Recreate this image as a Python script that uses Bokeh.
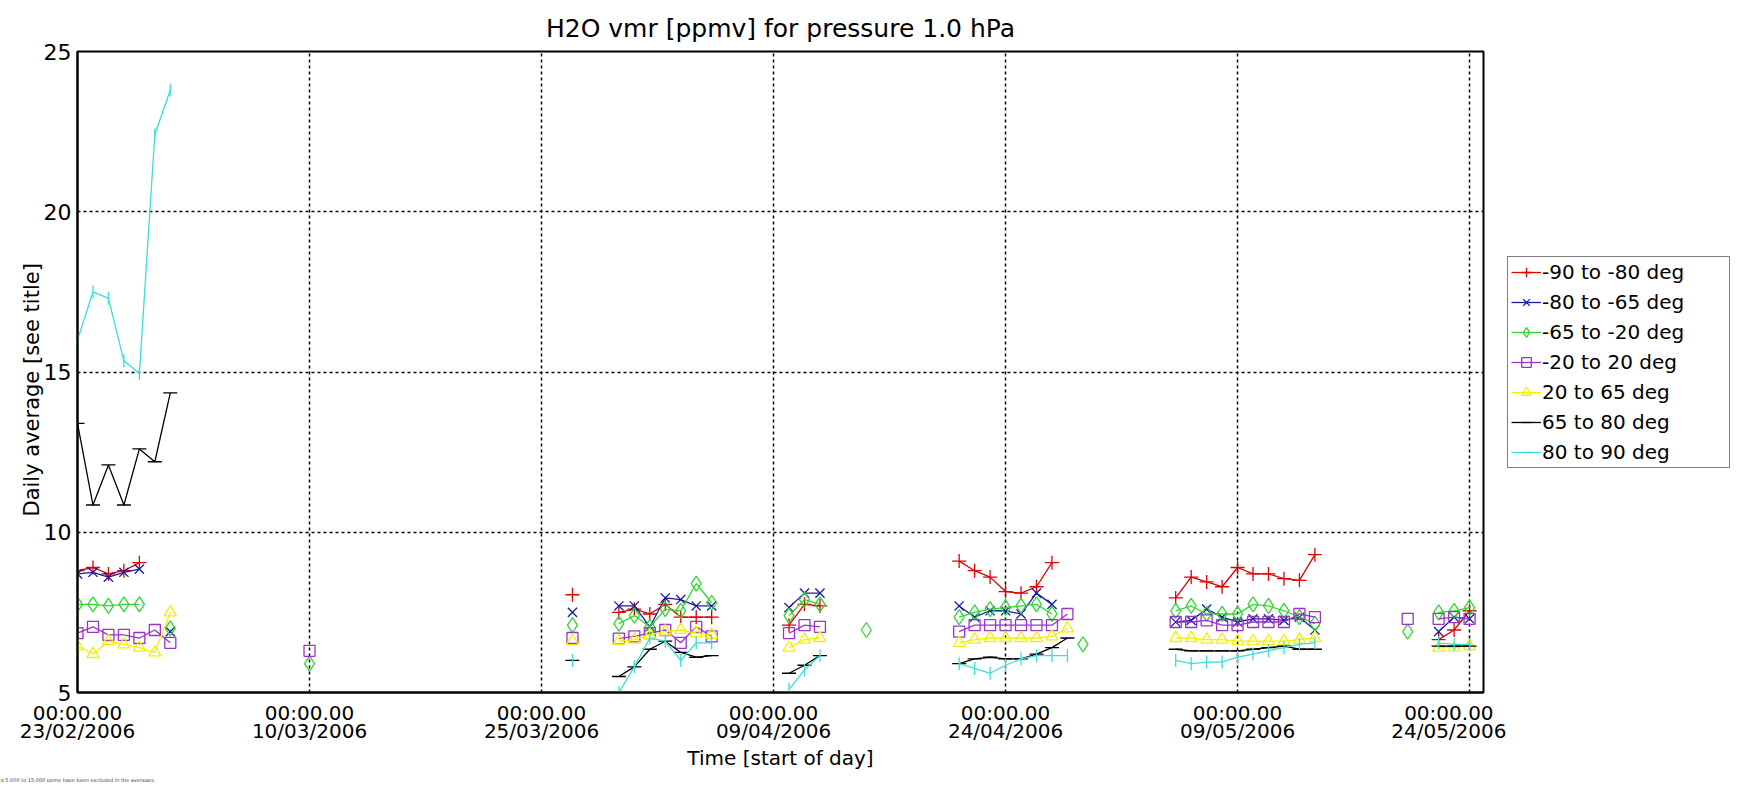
import math
from bokeh.plotting import figure
from bokeh.layouts import row, column
from bokeh.models import Range1d, FixedTicker, Legend, LegendItem, Title
from bokeh.embed import file_html
from bokeh.resources import INLINE

# ---------------- data (x = days since 23/02/2006 00:00) ----------------
tick_days = [0, 15, 30, 45, 60, 75, 90]
tick_dates = ["23/02/2006", "10/03/2006", "25/03/2006", "09/04/2006",
              "24/04/2006", "09/05/2006", "24/05/2006"]
y_ticks = [5, 10, 15, 20, 25]

labels = ["-90 to -80 deg", "-80 to -65 deg", "-65 to -20 deg", "-20 to 20 deg",
          "20 to 65 deg", "65 to 80 deg", "80 to 90 deg"]

red_days = [0, 1, 2, 3, 4, 32, 35, 36, 37, 38, 39, 40, 41, 46, 47, 48,
            57, 58, 59, 60, 61, 62, 63, 71, 72, 73, 74, 75, 76, 77, 78, 79, 80, 88, 89, 90]
red_vals = [8.8, 8.9, 8.7, 8.8, 9.05, 8.05, 7.5, 7.6, 7.45, 7.75, 7.35, 7.35, 7.35, 7.1, 7.75, 7.7,
            9.1, 8.8, 8.6, 8.15, 8.1, 8.3, 9.05, 7.95, 8.6, 8.45, 8.3, 8.9, 8.7, 8.7, 8.55, 8.5, 9.3,
            6.65, 6.95, 7.55]

blue_days = [0, 1, 2, 3, 4, 6, 32, 35, 36, 37, 38, 39, 40, 41, 46, 47, 48,
             57, 58, 59, 60, 61, 62, 63, 71, 72, 73, 74, 75, 76, 77, 78, 79, 80, 88, 89, 90]
blue_vals = [8.7, 8.75, 8.6, 8.75, 8.85, 6.9, 7.5, 7.7, 7.7, 7.05, 7.95, 7.9, 7.7, 7.7, 7.65, 8.1, 8.1,
             7.7, 7.35, 7.55, 7.55, 7.45, 8.1, 7.75, 7.2, 7.25, 7.6, 7.35, 7.2, 7.3, 7.3, 7.25, 7.35, 6.95,
             6.9, 7.35, 7.3]

green_days = [0, 1, 2, 3, 4, 6, 15, 32, 35, 36, 37, 38, 39, 40, 41, 46, 47, 48, 51,
              57, 58, 59, 60, 61, 62, 63, 65, 71, 72, 73, 74, 75, 76, 77, 78, 79, 80, 86, 88, 89, 90]
green_vals = [7.75, 7.75, 7.7, 7.75, 7.75, 7.0, 5.9, 7.1, 7.15, 7.4, 7.05, 7.6, 7.55, 8.4, 7.8,
              7.4, 7.9, 7.75, 6.95, 7.35, 7.5, 7.6, 7.65, 7.7, 7.75, 7.45, 6.5,
              7.55, 7.7, 7.45, 7.45, 7.45, 7.75, 7.7, 7.55, 7.35, 7.15, 6.9, 7.5, 7.55, 7.65]

purple_days = [0, 1, 2, 3, 4, 5, 6, 15, 32, 35, 36, 37, 38, 39, 40, 41, 46, 47, 48,
               57, 58, 59, 60, 61, 62, 63, 64, 71, 72, 73, 74, 75, 76, 77, 78, 79, 80, 86, 88, 89, 90]
purple_vals = [6.85, 7.05, 6.8, 6.8, 6.7, 6.95, 6.55, 6.3, 6.7, 6.68, 6.75, 6.85, 6.95, 6.55, 7.05, 6.75,
               6.85, 7.1, 7.05, 6.9, 7.1, 7.1, 7.1, 7.1, 7.1, 7.1, 7.45,
               7.2, 7.2, 7.25, 7.1, 7.1, 7.2, 7.2, 7.2, 7.45, 7.35, 7.3, 7.3, 7.35, 7.3]

yellow_days = [0, 1, 2, 3, 4, 5, 6, 32, 35, 36, 37, 38, 39, 40, 41, 46, 47, 48,
               57, 58, 59, 60, 61, 62, 63, 64, 71, 72, 73, 74, 75, 76, 77, 78, 79, 80, 88, 89, 90]
yellow_vals = [6.45, 6.2, 6.6, 6.5, 6.4, 6.25, 7.5, 6.6, 6.6, 6.65, 6.8, 6.9, 6.95, 6.85, 6.8,
               6.4, 6.65, 6.7, 6.55, 6.65, 6.7, 6.7, 6.7, 6.7, 6.75, 7.0,
               6.7, 6.7, 6.65, 6.65, 6.6, 6.6, 6.6, 6.6, 6.65, 6.7, 6.4, 6.4, 6.45]

black_days = [0, 1, 2, 3, 4, 5, 6, 32, 35, 36, 37, 38, 39, 40, 41, 46, 47, 48,
              57, 58, 59, 60, 61, 62, 63, 64, 71, 72, 73, 74, 75, 76, 77, 78, 79, 80, 88, 89, 90]
black_vals = [13.4, 10.85, 12.1, 10.85, 12.6, 12.2, 14.35, 6.0, 5.5, 5.8, 6.35, 6.6, 6.25, 6.1, 6.15,
              5.6, 5.85, 6.15, 5.9, 6.05, 6.1, 6.05, 6.05, 6.2, 6.4, 6.7,
              6.35, 6.3, 6.3, 6.3, 6.3, 6.35, 6.4, 6.45, 6.35, 6.35, 6.45, 6.45, 6.45]

cyan_days = [0, 1, 2, 3, 4, 5, 6, 32, 35, 36, 37, 38, 39, 40, 41, 46, 47, 48,
             57, 58, 59, 60, 61, 62, 63, 64, 71, 72, 73, 74, 75, 76, 77, 78, 79, 80, 88, 89, 90]
cyan_vals = [16.0, 17.5, 17.3, 15.35, 14.95, 22.4, 23.8, 6.0, 5.0, 5.8, 6.7, 6.6, 6.0, 6.55, 6.55,
             5.1, 5.7, 6.15, 5.9, 5.75, 5.6, 5.85, 6.05, 6.15, 6.15, 6.15,
             6.0, 5.9, 5.95, 5.95, 6.1, 6.2, 6.3, 6.4, 6.5, 6.55, 6.55, 6.5, 6.5]

footnote = "d 5.000 to 15.000 ppmv have been excluded in the averages."

# ---------------- styling ----------------
FONT = "DejaVu Sans"
styles = [
    dict(color="#e00000", marker="cross", size=14, angle=0.0),
    dict(color="#1c1c9c", marker="x", size=13, angle=0.0),
    dict(color="#30d830", marker="diamond", size=15, angle=0.0),
    dict(color="#9a33c8", marker="square", size=11, angle=0.0),
    dict(color="#f2f200", marker="triangle", size=12, angle=0.0),
    dict(color="#000000", marker="dash", size=14, angle=0.0),
    dict(color="#3cded6", marker="dash", size=13, angle=math.pi / 2),
]
all_series = [(red_days, red_vals), (blue_days, blue_vals), (green_days, green_vals),
              (purple_days, purple_vals), (yellow_days, yellow_vals),
              (black_days, black_vals), (cyan_days, cyan_vals)]


def with_gaps(days, vals):
    xs, ys = [], []
    prev = None
    for d, v in zip(days, vals):
        if prev is not None and d - prev > 1:
            xs.append(float("nan"))
            ys.append(float("nan"))
        xs.append(d)
        ys.append(v)
        prev = d
    return xs, ys


# ---------------- main plot ----------------
p = figure(width=1506, height=772, x_range=Range1d(0, 90.9), y_range=Range1d(5, 25),
           output_backend="svg", toolbar_location=None,
           min_border_left=77, min_border_right=23, min_border_top=51, min_border_bottom=73,
           title="H2O vmr [ppmv] for pressure 1.0 hPa")
p.title.align = "center"
p.title.text_font = FONT
p.title.text_font_size = "25px"
p.title.text_font_style = "normal"
p.title.text_color = "black"
p.title.standoff = 17

p.outline_line_color = "black"
p.outline_line_width = 2
p.outline_line_alpha = 1.0
p.background_fill_color = "white"
p.border_fill_color = "white"

for ax in (p.xaxis[0], p.yaxis[0]):
    ax.axis_line_color = "black"
    ax.axis_line_width = 2
    ax.major_tick_line_color = None
    ax.minor_tick_line_color = None
    ax.major_tick_out = 0
    ax.major_tick_in = 0
    ax.minor_tick_out = 0
    ax.minor_tick_in = 0
    ax.major_label_text_font = FONT
    ax.major_label_text_color = "black"

p.xaxis.ticker = FixedTicker(ticks=tick_days)
p.xaxis.major_label_overrides = {d: "00:00.00\n" + s for d, s in zip(tick_days, tick_dates)}
p.xaxis.major_label_text_font_size = "20px"
p.xaxis.major_label_text_line_height = 0.75
p.xaxis.major_label_standoff = 8
p.xaxis.axis_label = "Time [start of day]"
p.xaxis.axis_label_standoff = 0
p.xaxis.axis_label_text_font = FONT
p.xaxis.axis_label_text_font_size = "20px"
p.xaxis.axis_label_text_font_style = "normal"
p.xaxis.axis_label_text_color = "black"

p.yaxis.ticker = FixedTicker(ticks=y_ticks)
p.yaxis.major_label_text_font_size = "22px"
p.yaxis.major_label_standoff = 6

ylab = Title(text="Daily average [see title]", align="left", offset=176, standoff=-7,
             text_font=FONT, text_font_size="21px", text_font_style="normal", text_color="black")
p.add_layout(ylab, "left")

for g in (p.xgrid[0], p.ygrid[0]):
    g.grid_line_color = "black"
    g.grid_line_dash = "3 3"
    g.grid_line_width = 1.5
p.xgrid.ticker = FixedTicker(ticks=tick_days)
p.ygrid.ticker = FixedTicker(ticks=y_ticks)

# ---------------- legend panel (its handles sit outside its own visible range) ----------------
p2 = figure(width=224, height=772, x_range=Range1d(-2, -1), y_range=Range1d(-2, -1),
            output_backend="svg", toolbar_location=None,
            x_axis_location=None, y_axis_location=None, min_border=0)
p2.outline_line_color = None
p2.grid.visible = False
p2.background_fill_color = "white"
p2.border_fill_color = "white"

items = []
for (days, vals), st, lab in zip(all_series, styles, labels):
    xs, ys = with_gaps(days, vals)
    p.line(xs, ys, line_color=st["color"], line_width=1.3)
    p.scatter(days, vals, marker=st["marker"], size=st["size"], angle=st["angle"],
              line_color=st["color"], fill_color=None, line_width=1.3)
    lr = p2.line(xs, ys, line_color=st["color"], line_width=1.3)
    sr = p2.scatter(days, vals, marker=st["marker"], size=st["size"], angle=st["angle"],
                    line_color=st["color"], fill_color=None, line_width=1.3)
    items.append(LegendItem(label=lab, renderers=[lr, sr]))

legend = Legend(items=items, location=(1, 224))
legend.border_line_color = "black"
legend.border_line_width = 1.5
legend.background_fill_color = "white"
legend.background_fill_alpha = 1.0
legend.label_text_font = FONT
legend.label_text_font_size = "20px"
legend.label_text_color = "black"
legend.glyph_width = 30
legend.glyph_height = 24
legend.label_height = 24
legend.label_width = 184
legend.spacing = 6
legend.padding = 3
legend.margin = 0
legend.label_standoff = 1
p2.add_layout(legend)

# ---------------- footnote strip ----------------
p3 = figure(width=600, height=10, x_range=Range1d(0, 1), y_range=Range1d(0, 1),
            output_backend="svg", toolbar_location=None,
            x_axis_location=None, y_axis_location=None, min_border=0,
            title=footnote)
p3.outline_line_color = None
p3.grid.visible = False
p3.title.text_font = FONT
p3.title.text_font_size = "5px"
p3.title.text_font_style = "normal"
p3.title.standoff = 0
p3.title.align = "left"

layout = column(row(p, p2, spacing=0), p3, spacing=0)
open("out.html", "w").write(file_html(layout, INLINE))
